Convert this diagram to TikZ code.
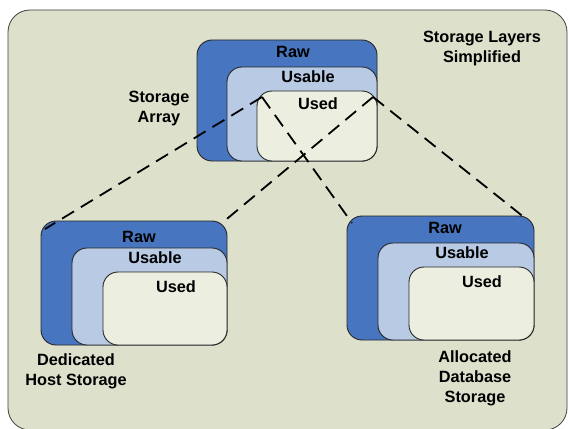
\documentclass[tikz,border=0pt]{standalone}
\usepackage{fontspec}
\setmainfont{Liberation Sans}
\begin{document}
\begin{tikzpicture}[x=1pt,y=-1pt,
  every node/.style={inner sep=0pt,outer sep=0pt},
  frame/.style={draw=black!75,line width=0.8pt,fill=bgkhaki,rounded corners=22pt},
  layer/.style={draw=black!85,line width=0.9pt,rounded corners=15pt,anchor=north west},
  rawbox/.style={layer,fill=rawblue},
  usablebox/.style={layer,fill=usableblue},
  usedbox/.style={layer,fill=usedcream},
  lbl/.style={font=\fontsize{16.3pt}{20pt}\selectfont\bfseries,align=center},
  link/.style={line width=1.8pt,dash pattern=on 14pt off 8pt}
]
\definecolor{bgkhaki}{HTML}{DDE0CB}
\definecolor{rawblue}{HTML}{4775BF}
\definecolor{usableblue}{HTML}{B8CAE4}
\definecolor{usedcream}{HTML}{ECEEE0}

\useasboundingbox (0,0) rectangle (569,428);
\node[frame,minimum width=559pt,minimum height=420pt,anchor=north west] (frame) at (8,10) {};

% storage array
\node[rawbox,minimum width=180pt,minimum height=121pt] (rawA) at (197,40) {};
\node[usablebox,minimum width=150pt,minimum height=94pt] (usableA) at (227,67) {};
\node[usedbox,minimum width=120pt,minimum height=70pt] (usedA) at (257,91) {};

% dedicated host storage
\node[rawbox,minimum width=186pt,minimum height=124pt] (rawH) at (41,221) {};
\node[usablebox,minimum width=155pt,minimum height=97pt] (usableH) at (72,248) {};
\node[usedbox,minimum width=124pt,minimum height=73pt] (usedH) at (103,272) {};

% allocated database storage
\node[rawbox,minimum width=187pt,minimum height=124pt] (rawD) at (347,216) {};
\node[usablebox,minimum width=156pt,minimum height=97pt] (usableD) at (378,243) {};
\node[usedbox,minimum width=125pt,minimum height=73pt] (usedD) at (409,267) {};

% fan-out of the array into the two allocations
\coordinate (apexL) at (262,97);
\coordinate (apexR) at (373,97);
\coordinate (hostL) at (45,229);
\coordinate (hostR) at (222,223);
\coordinate (dbL) at (352,223);
\coordinate (dbR) at (525,218);
\draw[link] (apexL) -- (hostL);
\draw[link] (apexL) -- (dbL);
\draw[link] (apexR) -- (hostR);
\draw[link] (apexR) -- (dbR);

% layer names
\node[lbl] (tRawA) at (293,52) {Raw};
\node[lbl] (tUsableA) at (308,77) {Usable};
\node[lbl] (tUsedA) at (318,104) {Used};
\node[lbl] (tRawH) at (139,237) {Raw};
\node[lbl] (tUsableH) at (155,258) {Usable};
\node[lbl] (tUsedH) at (176,287) {Used};
\node[lbl] (tRawD) at (445,228) {Raw};
\node[lbl] (tUsableD) at (462,253) {Usable};
\node[lbl] (tUsedD) at (482,282) {Used};

% captions
\node[lbl] (cTitle) at (482,48) {Storage Layers\\Simplified};
\node[lbl] (cArray) at (159,108) {Storage\\Array};
\node[lbl] (cHost) at (76,371) {Dedicated\\Host Storage};
\node[lbl] (cDb) at (475,378) {Allocated\\Database\\Storage};
\end{tikzpicture}
\end{document}
